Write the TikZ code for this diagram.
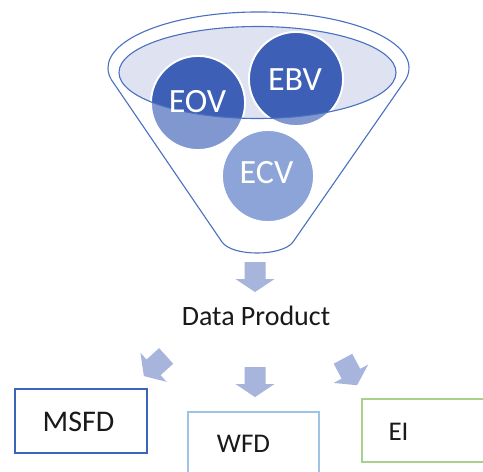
\documentclass[tikz,border=0pt]{standalone}
\usepackage{fontspec}
\setmainfont{Carlito}
\definecolor{funnelblue}{HTML}{4A70C0}
\definecolor{ellfill}{HTML}{DFE2F1}
\definecolor{darkcirc}{HTML}{3D60B6}
\definecolor{lightcirc}{HTML}{8197D0}
\definecolor{ecvcirc}{HTML}{8CA4D8}
\definecolor{arrowfill}{HTML}{A7B4DB}
\definecolor{msfdcol}{HTML}{3C64B8}
\definecolor{wfdcol}{HTML}{9DC3E6}
\definecolor{eicol}{HTML}{A9D18E}
\tikzset{
  funnelline/.style={draw=funnelblue, line width=1.1pt},
  circlenode/.style={circle, inner sep=0pt, outer sep=0pt, minimum size=94pt, draw=white, line width=1.8pt},
  circtext/.style={anchor=base, text=white, font=\fontsize{34}{40}\selectfont, inner sep=0pt},
  labeltext/.style={anchor=base, text=black!90, inner sep=0pt},
  boxnode/.style={rectangle, inner sep=0pt, outer sep=0pt, fill=white},
  blockarrow/.pic={\fill[arrowfill] (-15,-10.5) -- (2,-10.5) -- (2,-19.5) -- (15,0) -- (2,19.5) -- (2,10.5) -- (-15,10.5) -- cycle;}
}
\begin{document}
\begin{tikzpicture}[x=1pt,y=-1pt]
\clip (0,0) rectangle (483,472);
\fill[white] (0,0) rectangle (483,472);
% funnel outline
\draw[funnelline, fill=white] (111.3,79.6) arc[start angle=168, end angle=372, x radius=150.5, y radius=56]
  -- (293,242) .. controls (282,256.7) and (232,256.7) .. (222,242) -- cycle;
% inner ellipse fill
\fill[ellfill] (257.5,72.5) ellipse[x radius=138.5, y radius=46];
% circles (lower, lighter parts)
\node[circlenode, fill=lightcirc] (eov) at (198,103) {};
\node[circlenode, fill=lightcirc] (ebv) at (296,79) {};
\node[circlenode, fill=ecvcirc, minimum size=92pt] (ecv) at (268,176) {};
% parts inside the ellipse are darker
\begin{scope}
  \clip (257.5,72.5) ellipse[x radius=138.5, y radius=46];
  \fill[darkcirc, draw=white, line width=1.8pt] (eov.center) circle[radius=47];
  \fill[darkcirc, draw=white, line width=1.8pt] (ebv.center) circle[radius=47];
\end{scope}
\draw[funnelline] (257.5,72.5) ellipse[x radius=138.5, y radius=46];
% circle labels
\node[circtext] (eovt) at (197.5,112) {EOV};
\node[circtext] (ebvt) at (295,90) {EBV};
\node[circtext] (ecvt) at (266.5,183) {ECV};
% arrows
\pic[rotate=-90] at (255,277) {blockarrow};
\node[labeltext, font=\fontsize{28}{32}\selectfont] (dp) at (256,325) {Data Product};
\pic[rotate=-138] at (155,366) {blockarrow};
\pic[rotate=-90] at (255,382) {blockarrow};
\pic[rotate=-62] at (350,372) {blockarrow};
% boxes
\node[boxnode, draw=msfdcol, line width=2.4pt, minimum width=132pt, minimum height=64pt] (msfd) at (81,421) {};
\node[boxnode, draw=wfdcol, line width=2pt, minimum width=131pt, minimum height=73pt] (wfd) at (253.5,448.5) {};
\node[boxnode, draw=eicol, line width=2pt, minimum width=138pt, minimum height=63pt] (ei) at (431,430.5) {};
\node[labeltext, font=\fontsize{30}{34}\selectfont] (msfdt) at (78.5,431) {MSFD};
\node[labeltext, font=\fontsize{27}{32}\selectfont] (wfdt) at (243.5,452) {WFD};
\node[labeltext, font=\fontsize{27}{32}\selectfont] (eit) at (398.5,440) {EI};
\end{tikzpicture}
\end{document}
